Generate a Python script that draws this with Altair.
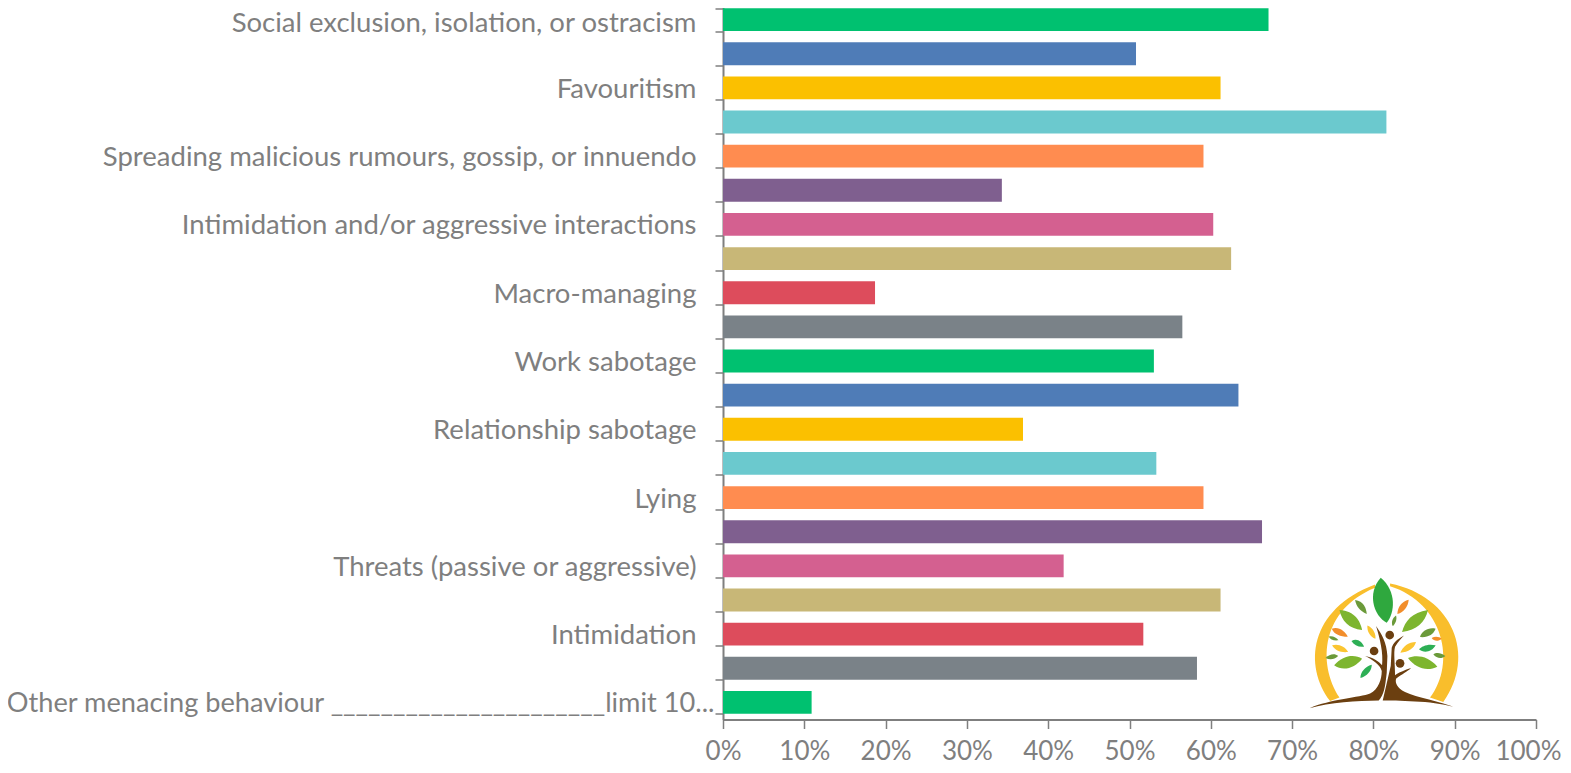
import urllib.parse
import altair as alt
import pandas as pd

labels = ["Social exclusion, isolation, or ostracism", "", "Favouritism", "",
          "Spreading malicious rumours, gossip, or innuendo", "",
          "Intimidation and/or aggressive interactions", "", "Macro-managing", "",
          "Work sabotage", "", "Relationship sabotage", "", "Lying", "",
          "Threats (passive or aggressive)", "", "Intimidation", "",
          "Other menacing behaviour ______________________limit 10..."]
values = [67.1, 50.8, 61.2, 81.6, 59.1, 34.3, 60.3, 62.5, 18.7, 56.5, 53.0,
          63.4, 36.9, 53.3, 59.1, 66.3, 41.9, 61.2, 51.7, 58.3, 10.9]
palette = ["#00C170", "#4F7CB7", "#FBC000", "#6BC9CE", "#FF8C50",
           "#7F5F8F", "#D46090", "#C8B777", "#DD4C5C", "#7A8288"]
colors = [palette[i % len(palette)] for i in range(len(values))]

df = pd.DataFrame({"row": list(range(len(values))), "value": values, "color": colors})
label_js = "[" + ",".join('"' + s + '"' for s in labels) + "]"

GREY = "#7F7F7F"
FONT = "Lato"

bars = alt.Chart(df).mark_bar(cornerRadius=0).encode(
    x=alt.X("value:Q",
            scale=alt.Scale(domain=[0, 100], nice=False),
            axis=alt.Axis(values=list(range(0, 101, 10)), labelExpr="datum.value + '%'",
                          title=None, grid=False, domainColor=GREY, domainWidth=2,
                          tickColor=GREY, tickWidth=1.5, tickSize=9, labelColor=GREY,
                          labelFont=FONT, labelFontSize=26, labelPadding=10,
                          labelOffset={"condition": {"test": "datum.value == 100", "value": -8},
                                       "value": 0},
                          labelFlush=False, labelOverlap=False)),
    y=alt.Y("row:O",
            scale=alt.Scale(paddingInner=0.33, paddingOuter=0.165),
            axis=alt.Axis(labelExpr=label_js + "[datum.value]", title=None,
                          domainColor=GREY, domainWidth=2, tickColor=GREY, tickWidth=1.5,
                          tickSize=8, tickBand="extent", labelColor=GREY, labelFont=FONT,
                          labelFontSize={"condition": {"test": "datum.value == 20", "value": 27.2},
                                         "value": 27.5},
                          labelOffset={"condition": {"test": "datum.value == 0", "value": 3.5},
                                       "value": 1.5},
                          labelPadding={"condition": {"test": "datum.value == 20", "value": 1},
                                        "value": 19},
                          labelLimit=760, labelOverlap=False)),
    color=alt.Color("color:N", scale=None, legend=None),
)

logo_svg = """<svg xmlns='http://www.w3.org/2000/svg' viewBox='0 0 873 640' width='291' height='213'>
<path d='M150 425 C70 320 85 150 285 75 L285 85 C125 150 110 310 178 415 Z' fill='#F9BE2C'/>
<path d='M330 72 C520 110 590 290 490 428 L450 415 C530 310 490 130 330 80 Z' fill='#F9BE2C'/>
<g fill='#7DB52F'>
<path d='M178 152 C225 155 240 185 246 212 C205 208 185 185 178 152Z'/>
<path d='M444 152 C395 160 375 185 366 218 C410 212 435 190 444 152Z'/>
<path d='M162 318 C190 285 225 285 246 298 C225 325 190 338 162 318Z'/>
<path d='M472 322 C445 290 410 285 384 296 C405 325 440 338 472 322Z'/>
</g>
<path d='M302 55 C350 95 345 160 320 190 C280 170 260 100 302 55Z' fill='#2FA83E'/>
<g fill='#6B9A3A'>
<path d='M225 122 C250 125 258 145 260 164 C238 155 228 140 225 122Z'/>
<path d='M467 208 C445 203 425 215 420 233 C445 235 460 225 467 208Z'/>
<path d='M146 232 C155 228 170 235 175 243 C160 245 150 240 146 232Z'/>
<path d='M136 296 C150 282 165 282 174 290 C162 302 148 302 136 296Z'/>
<path d='M496 290 C480 278 468 280 460 285 C470 298 485 300 496 290Z'/>
<path d='M348 168 C352 180 345 195 338 200 C332 188 338 175 348 168Z'/>
</g>
<g fill='#F28E2B'>
<path d='M386 121 C365 125 352 145 352 164 C372 158 384 142 386 121Z'/>
<path d='M155 208 C175 200 195 215 203 232 C180 232 162 225 155 208Z'/>
<path d='M455 236 C465 230 478 232 485 238 C475 247 462 246 455 236Z'/>
</g>
<g fill='#FBC531'>
<path d='M262 198 C280 205 288 225 286 238 C270 232 260 215 262 198Z'/>
<path d='M156 258 C175 252 195 262 204 278 C182 280 165 275 156 258Z'/>
<path d='M408 248 C385 248 368 262 361 280 C385 278 402 268 408 248Z'/>
</g>
<g fill='#2DAF55'>
<path d='M214 245 C230 235 245 245 252 262 C235 264 222 258 214 245Z'/>
<path d='M467 258 C445 252 425 260 417 270 C430 282 455 280 467 258Z'/>
<path d='M275 316 C255 320 240 340 241 356 C260 350 275 335 275 316Z'/>
</g>
<g fill='#6B3F10'>
<circle cx='329' cy='227' r='13'/><circle cx='282' cy='275' r='13'/><circle cx='360' cy='312' r='13'/>
<path d='M288 200 C305 225 320 250 322 290 L320 340 C315 385 312 405 296 424 C230 425 150 430 88 447 C150 420 240 415 270 403 C295 390 305 360 305 335 C300 315 275 300 255 290 C280 295 295 305 306 318 C310 280 300 240 288 200Z'/>
<path d='M372 228 C350 240 340 250 335 265 L332 320 L308 424 C370 425 470 425 532 447 C480 425 410 415 375 398 C350 385 345 370 348 358 C365 345 385 335 393 326 C375 332 355 340 345 348 C345 310 340 280 345 262 C355 245 365 235 372 228Z'/>
</g>
</svg>"""
logo_url = "data:image/svg+xml," + urllib.parse.quote(logo_svg)

logo = alt.Chart(pd.DataFrame({"url": [logo_url]})).mark_image(
    width=291, height=213, align="left", baseline="top"
).encode(url="url:N", x=alt.value(1280 - 723), y=alt.value(560 - 3))

chart = alt.layer(bars, logo).properties(
    width=813, height=717,
    padding={"left": 715, "top": -5.5, "right": 27, "bottom": 45},
    autosize=alt.AutoSizeParams(type="none"),
    background="white",
).configure_view(stroke=None)

chart.save("out.html", embed_options={"renderer": "svg", "actions": False})
